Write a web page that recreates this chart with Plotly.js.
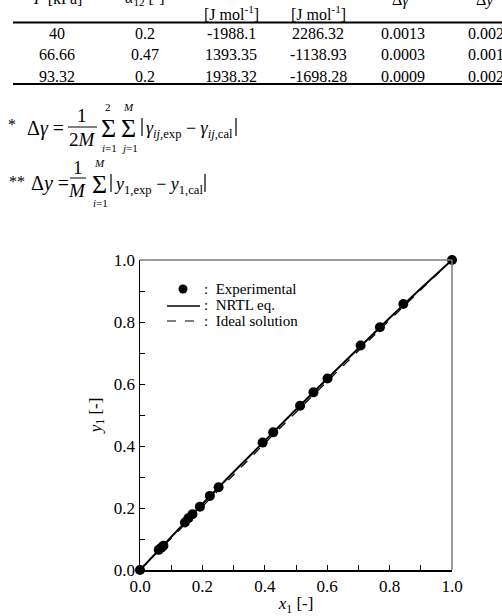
<!DOCTYPE html>
<html>
<head>
<meta charset="utf-8">
<script src="https://cdn.plot.ly/plotly-3.0.1.min.js"></script>
<style>html,body{margin:0;padding:0;background:#fff;}#chart{width:502px;height:616px;}</style>
</head>
<body>
<div id="chart"></div>
<script>
// ---- Data ----
var expX = [0, 0.060, 0.068, 0.075, 0.144, 0.155, 0.168, 0.192, 0.224, 0.252, 0.393, 0.427, 0.513, 0.556, 0.601, 0.707, 0.769, 0.844, 1.0];
var expY = [0, 0.065, 0.072, 0.078, 0.153, 0.167, 0.180, 0.204, 0.239, 0.267, 0.411, 0.444, 0.530, 0.573, 0.618, 0.724, 0.783, 0.858, 1.0];
var nrtlX = [0, 0.1, 0.2, 0.3, 0.4, 0.5, 0.6, 0.7, 0.8, 0.9, 1.0];
var nrtlY = [0, 0.108, 0.213, 0.316, 0.418, 0.518, 0.617, 0.716, 0.813, 0.908, 1.0];
var idealX = [0, 0.1, 0.2, 0.3, 0.4, 0.5, 0.6, 0.7, 0.8, 0.9, 1.0];
var idealY = [0, 0.103, 0.206, 0.308, 0.409, 0.509, 0.609, 0.708, 0.806, 0.904, 1.0];
var tickVals = [0, 0.2, 0.4, 0.6, 0.8, 1.0];
var tickText = ["0.0", "0.2", "0.4", "0.6", "0.8", "1.0"];

// table
var tableHeaderTop = ["<i>P</i> [kPa]", "<i>α</i><sub>12</sub> [-]", "", "", "Δ<i>γ</i><sup>*</sup>", "Δ<i>y</i><sup>**</sup>"];
var tableUnits = ["", "", "[J mol<sup>-1</sup>]", "[J mol<sup>-1</sup>]", "", ""];
var tableP = ["40", "66.66", "93.32"];
var tableAlpha = ["0.2", "0.47", "0.2"];
var tableA12 = ["-1988.1", "1393.35", "1938.32"];
var tableA21 = ["2286.32", "-1138.93", "-1698.28"];
var tableDg = ["0.0013", "0.0003", "0.0009"];
var tableDy = ["0.0021", "0.0010", "0.0024"];

// ---- Layout helpers (pixel -> paper) ----
var L = 140, R = 452, T = 260, B = 570;
function px(x){ return (x - L) / (R - L); }
function py(y){ return (B - y) / (B - T); }
var SERIF = "Liberation Serif";

var ann = [];
function txt(x, y, s, size, opts){
  var a = {xref:'paper', yref:'paper', x:px(x), y:py(y), text:s, showarrow:false,
    font:{family:SERIF, size:size||16, color:'#000'}, xanchor:'center', yanchor:'middle', borderpad:0};
  if (opts) for (var k in opts) a[k] = opts[k];
  ann.push(a);
}
var shapes = [];
function hline(x0, x1, y, w, dash){
  shapes.push({type:'line', xref:'paper', yref:'paper', x0:px(x0), x1:px(x1), y0:py(y), y1:py(y),
    line:{color:'#000', width:w||1, dash:dash||'solid'}});
}
function vline(x, y0, y1, w){
  shapes.push({type:'line', xref:'paper', yref:'paper', x0:px(x), x1:px(x), y0:py(y0), y1:py(y1),
    line:{color:'#000', width:w||1}});
}

// table
var colX = [57, 145, 231, 318, 403, 490];
for (var c = 0; c < 6; c++){
  if (tableHeaderTop[c]) txt(colX[c], -1, tableHeaderTop[c], 16);
  if (tableUnits[c]) txt(colX[c], 13, tableUnits[c], 16);
}
var cols = [tableP, tableAlpha, tableA12, tableA21, tableDg, tableDy];
var rowY = [33, 54, 76];
for (var c = 0; c < 6; c++){
  for (var r = 0; r < 3; r++){
    txt(colX[c], rowY[r], cols[c][r], 16);
  }
}
hline(13, 502, 22.5, 2);
hline(13, 502, 84, 2);

// equation 1
txt(12, 125, "*", 16);
txt(45, 128, "Δ<i>γ</i> =", 20);
txt(82, 115, "1", 19);
hline(68, 97, 127, 1);
txt(82, 139, "2<i>M</i>", 19);
txt(108, 128, "Σ", 26);
txt(108, 107, "2", 11);
txt(109, 148, "<i>i</i>=1", 11);
txt(128, 128, "Σ", 26);
txt(128, 107, "<i>M</i>", 11);
txt(129, 148, "<i>j</i>=1", 11);
vline(142, 118, 136, 1.2);
txt(189, 129, "<i>γ</i><sub><i>ij</i>,exp</sub> − <i>γ</i><sub><i>ij</i>,cal</sub>", 18);
vline(236, 118, 136, 1.2);

// equation 2
txt(17, 181, "**", 16);
txt(50, 183, "Δ<i>y</i> =", 20);
txt(78, 167, "1", 19);
hline(70, 86, 178, 1);
txt(77, 190, "<i>M</i>", 19);
txt(99, 184, "Σ", 26);
txt(99, 163, "<i>M</i>", 11);
txt(100, 203, "<i>i</i>=1", 11);
vline(111, 174, 192, 1.2);
txt(158, 185, "<i>y</i><sub>1,exp</sub> − <i>y</i><sub>1,cal</sub>", 18);
vline(205, 174, 192, 1.2);

// manual legend
txt(203, 289, ":  Experimental", 15, {xanchor:'left'});
txt(203, 305, ":  NRTL eq.", 15, {xanchor:'left'});
txt(203, 321, ":  Ideal solution", 15, {xanchor:'left'});
hline(167, 200, 306, 1.5);
hline(167, 200, 321, 1.2, 'dash');
shapes.push({type:'circle', xref:'paper', yref:'paper',
  x0:px(183-4.5), x1:px(183+4.5), y0:py(289+4.5), y1:py(289-4.5),
  fillcolor:'#000', line:{color:'#000', width:0}});

// frame top/right (grey)
shapes.push({type:'line', xref:'paper', yref:'paper', x0:0, x1:1, y0:1, y1:1, line:{color:'#7a7a7a', width:1.5}});
shapes.push({type:'line', xref:'paper', yref:'paper', x0:1, x1:1, y0:0, y1:1, line:{color:'#7a7a7a', width:1.5}});

var traces = [
  {x: idealX, y: idealY, mode:'lines', name:'Ideal solution', line:{color:'#000', width:1.2, dash:'dash'}, showlegend:false},
  {x: nrtlX, y: nrtlY, mode:'lines', name:'NRTL eq.', line:{color:'#000', width:2}, showlegend:false},
  {x: expX, y: expY, mode:'markers', name:'Experimental', marker:{color:'#000', size:10}, showlegend:false, cliponaxis:false}
];

var axisCommon = {
  range:[0, 1], tickvals: tickVals, ticktext: tickText, ticks:'inside', ticklen:5, tickwidth:1, tickcolor:'#000',
  minor:{dtick:0.1, tick0:0, ticks:'inside', ticklen:5, tickwidth:1, tickcolor:'#000', showgrid:false},
  showgrid:false, zeroline:false, showline:true, linecolor:'#000', linewidth:1.5,
  tickfont:{family:SERIF, size:17, color:'#000'}, fixedrange:true
};

var layout = {
  width:502, height:616,
  margin:{l:L, r:502-R, t:T, b:616-B, pad:0},
  paper_bgcolor:'#fff', plot_bgcolor:'#fff',
  showlegend:false,
  xaxis: Object.assign({}, axisCommon, {
    title:{text:'<i>x</i><sub>1</sub> [-]', font:{family:SERIF, size:17, color:'#000'}, standoff:8}
  }),
  yaxis: Object.assign({}, axisCommon, {
    title:{text:'<i>y</i><sub>1</sub> [-]', font:{family:SERIF, size:17, color:'#000'}, standoff:8}
  }),
  annotations: ann,
  shapes: shapes
};

Plotly.newPlot('chart', traces, layout, {displayModeBar:false, staticPlot:true});
</script>
</body>
</html>
